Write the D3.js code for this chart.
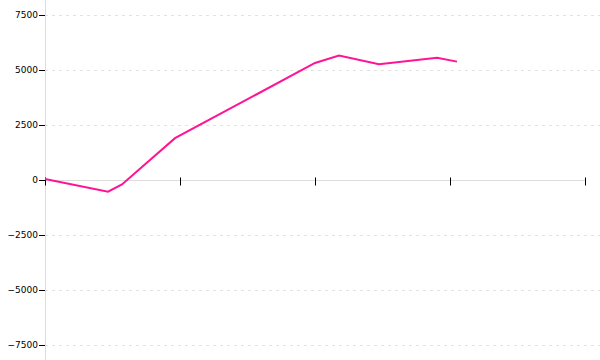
<!DOCTYPE html>
<html>
<head>
<meta charset="utf-8">
<script src="https://cdn.jsdelivr.net/npm/d3@7"></script>
<style>
  body { margin: 0; background: #fff; }
  svg { display: block; }
  .tick text { font-family: "DejaVu Sans", Verdana, sans-serif; font-size: 9px; fill: #000; }
</style>
</head>
<body>
<div id="chart"></div>
<script>
// values
const xValues = [0, 0.467, 0.57, 0.963, 2.0, 2.178, 2.474, 2.904, 3.052];
const yValues = [50, -530, -200, 1900, 5320, 5660, 5260, 5560, 5380];
const yTicks = [-7500, -5000, -2500, 0, 2500, 5000, 7500];
const xTicks = [0, 1, 2, 3, 4];

const width = 600, height = 360;
const left = 45, right = 585;

const svg = d3.select('#chart').append('svg')
    .attr('width', width)
    .attr('height', height);

const x = d3.scaleLinear().domain([0, 4]).range([left, right]);
const y = d3.scaleLinear().domain([-7500, 7500]).range([345, 15]);

// dashed grid
svg.append('g')
    .selectAll('line')
    .data(yTicks.filter(d => d !== 0))
    .join('line')
    .attr('x1', left).attr('x2', width)
    .attr('y1', d => y(d) + 0.5).attr('y2', d => y(d) + 0.5)
    .attr('stroke', '#e2e2e2')
    .attr('stroke-dasharray', '3,4');

// vertical axis line
svg.append('line')
    .attr('x1', left + 0.5).attr('x2', left + 0.5)
    .attr('y1', 0).attr('y2', height)
    .attr('stroke', '#ddd');

// x axis along zero
const xAxis = svg.append('g')
    .attr('transform', `translate(0,${y(0) + 0.5})`);
xAxis.append('line')
    .attr('x1', left).attr('x2', right)
    .attr('stroke', '#ddd');
xAxis.selectAll('line.t')
    .data(xTicks)
    .join('line')
    .attr('class', 't')
    .attr('x1', d => x(d) + 0.5).attr('x2', d => x(d) + 0.5)
    .attr('y1', -3).attr('y2', 5)
    .attr('stroke', '#000');

// y axis ticks and labels
const yAxis = d3.axisLeft(y)
    .tickValues(yTicks)
    .tickFormat(d3.format('d'))
    .tickSize(6)
    .tickPadding(1);
svg.append('g')
    .attr('transform', `translate(${left},0)`)
    .call(yAxis)
    .call(g => g.select('.domain').remove())
    .call(g => g.selectAll('.tick line').attr('stroke', '#000'));

// series
const line = d3.line()
    .x((d, i) => x(xValues[i]))
    .y(d => y(d));

svg.append('path')
    .datum(yValues)
    .attr('fill', 'none')
    .attr('stroke', '#ff1493')
    .attr('stroke-width', 2)
    .attr('d', line);
</script>
</body>
</html>
